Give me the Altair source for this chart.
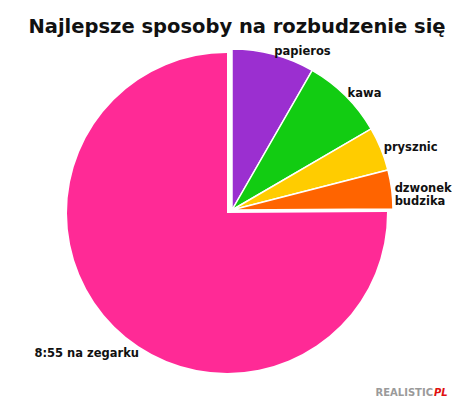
import altair as alt
import pandas as pd

labels = ["papieros", "kawa", "prysznic", "dzwonek\nbudzika", "8:55 na zegarku"]
values = [8.3, 8.3, 4.4, 3.9, 75.1]
groups = ["small", "small", "small", "small", "big"]
colors = ["#9b2fd0", "#12cc12", "#ffcc00", "#ff6400", "#ff2a96"]
title_text = "Najlepsze sposoby na rozbudzenie się"
watermark_parts = ["REALISTIC", "PL"]
watermark_colors = ["#9a9a9a", "#e01010"]

df = pd.DataFrame({
    "label": labels,
    "value": values,
    "group": groups,
    "order": list(range(len(labels))),
})

theta_scale = alt.Scale(domain=[0, 100], range=[0, 6.283185307179586])
color = alt.Color("label:N", scale=alt.Scale(domain=labels, range=colors), legend=None)

base = (
    alt.Chart(df)
    .transform_window(cum="sum(value)", sort=[alt.SortField("order")], frame=[None, 0])
    .transform_calculate(start="datum.cum - datum.value", mid="datum.cum - datum.value / 2")
)

arc_enc = dict(
    theta=alt.Theta("start:Q", scale=theta_scale, stack=None),
    theta2="cum:Q",
    color=color,
)

big_arc = base.transform_filter("datum.group == 'big'").mark_arc(radius=160).encode(**arc_enc)
small_arc = (
    base.transform_filter("datum.group == 'small'")
    .mark_arc(radius=161, stroke="white", strokeWidth=1.5, xOffset=5, yOffset=-3)
    .encode(**arc_enc)
)

label_style = dict(font="DejaVu Sans", fontWeight="bold", fontSize=11.5, color="#111111", lineBreak="\n")

small_text = (
    base.transform_filter("datum.group == 'small'")
    .mark_text(radius=164, align="left", baseline="middle", xOffset=5, yOffset=-3, lineHeight=13, **label_style)
    .encode(theta=alt.Theta("mid:Q", scale=theta_scale, stack=None), text="label:N")
)
big_text = (
    base.transform_filter("datum.group == 'big'")
    .mark_text(radius=199, align="center", baseline="middle", **label_style)
    .encode(theta=alt.Theta("mid:Q", scale=theta_scale, stack=None), text="label:N")
)

wm = pd.DataFrame({"t": watermark_parts, "c": watermark_colors})
watermark_a = alt.Chart(wm.iloc[[0]]).mark_text(
    align="right", baseline="alphabetic", font="DejaVu Sans", fontSize=10, fontWeight="bold", color=watermark_colors[0]
).encode(text="t:N", x=alt.value(425), y=alt.value(338))
watermark_b = alt.Chart(wm.iloc[[1]]).mark_text(
    align="left", baseline="alphabetic", font="DejaVu Sans", fontSize=10, fontWeight="bold", fontStyle="italic", color=watermark_colors[1]
).encode(text="t:N", x=alt.value(426), y=alt.value(338))

chart = (
    alt.layer(big_arc, small_arc, small_text, big_text, watermark_a, watermark_b)
    .properties(
        width=438,
        height=310,
        autosize="none",
        background="white",
        padding={"left": 0, "right": 6, "top": 50, "bottom": 30},
        title=alt.TitleParams(
            title_text, font="DejaVu Sans", fontSize=19.5, fontWeight="bold", color="#111111",
            anchor="middle", dx=10, offset=8,
        ),
    )
    .configure_view(strokeWidth=0, stroke="transparent")
)

chart.save("out.html", embed_options={"renderer": "svg", "actions": False})
